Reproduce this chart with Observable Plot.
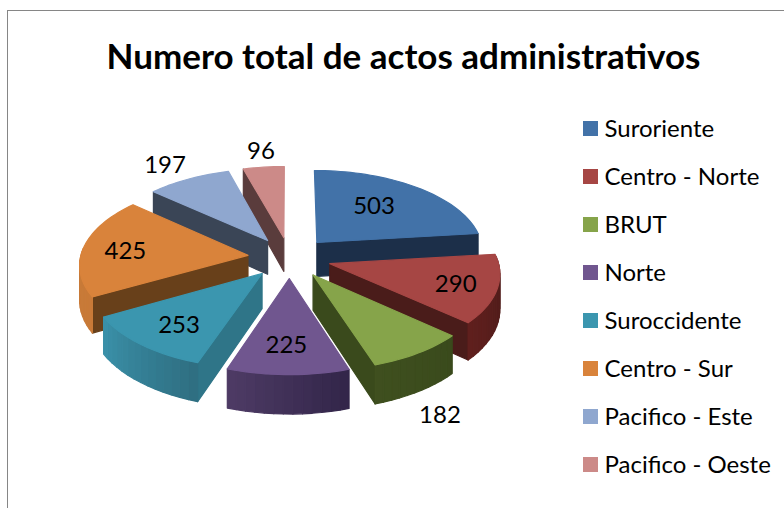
<!DOCTYPE html>
<html><head><meta charset="utf-8">
<script src="https://cdn.jsdelivr.net/npm/d3@7"></script>
<script src="https://cdn.jsdelivr.net/npm/@observablehq/plot@0.6"></script>
<style>html,body{margin:0;padding:0;background:#fff}svg{display:block}</style>
</head><body><div id="chart"></div>
<script>
const title = "Numero total de actos administrativos";
const categories = ["Suroriente","Centro - Norte","BRUT","Norte","Suroccidente","Centro - Sur","Pacifico - Este","Pacifico - Oeste"];
const values = [503,290,182,225,253,425,197,96];
const topColors = ["#4272a8","#a64644","#86a44a","#70568f","#3b96af","#d9833b","#8fa7cf","#cc8a88"];
const sideColors = ["#1c2f49","#4a1c1a","#3a4a1c","#3a2c4c","#2f7588","#68401a","#3a4556","#5a3c3c"];
const outerStart = ["#1c2f49","#4a1c1a","#3a4a1c","#33264a","#2f6f82","#c87a38","#3a4556","#5a3c3c"];
const outerEnd = ["#1c2f49","#601f1d","#3f501f","#4f3c66","#3b92ab","#c87a38","#3a4556","#5a3c3c"];
// label placement on the disc: radius fraction and angular shift from the slice's middle
const labelRadius = [0.61,0.763,1.536,0.72,0.726,0.74,1.27,1.258];
const labelTurn = [-4.1,1.4,9.8,0.9,-1.8,-2.6,-1.4,0.6];

// view model of the tilted exploded pie
const view = {cx:289, cy:257, rx:167.5, ry:82, persp:0.1, explode:0.25, depth:34.5};
const rad = d => d*Math.PI/180;
function project(u, v, z=0){
  const s = 1/(1 - view.persp*v);
  return {x: view.cx + view.rx*u*s, y: view.cy + view.ry*v*s + z*view.depth*s};
}
const total = d3.sum(values);
let acc = 0;
const slices = values.map((value,i)=>{
  const a = acc/total*360; acc += value; const b = acc/total*360;
  const mid = (a+b)/2;
  return {i, name:categories[i], value, a, b, mid,
    ox:view.explode*Math.sin(rad(mid)), oy:-view.explode*Math.cos(rad(mid))};
});
const disc = (s, deg, r=1) => [s.ox + r*Math.sin(rad(deg)), s.oy - r*Math.cos(rad(deg))];
const at = (s, deg, r, z) => { const [u,v] = disc(s,deg,r); return project(u,v,z); };
const polys = [];
let pid = 0;
function addPoly(points, color){
  const id = pid++;
  for (const p of points) polys.push({id, color, x:p.x, y:p.y});
}
const mix = (c1,c2,t) => d3.interpolateRgb(c1,c2)(t);
const ordered = d3.sort(slices, s => s.oy);
for (const s of ordered){
  // radial walls
  if (Math.sin(rad(s.a)) < 0) addPoly([at(s,s.a,0,0),at(s,s.a,1,0),at(s,s.a,1,1),at(s,s.a,0,1)], sideColors[s.i]);
  if (Math.sin(rad(s.b)) > 0) addPoly([at(s,s.b,0,0),at(s,s.b,1,0),at(s,s.b,1,1),at(s,s.b,0,1)], sideColors[s.i]);
  // outer wall, shaded in narrow strips
  const w0 = Math.max(s.a,85), w1 = Math.min(s.b,275);
  if (w1 > w0){
    const n = Math.max(1, Math.ceil((w1-w0)/3));
    for (let k=0;k<n;k++){
      const d0 = w0+(w1-w0)*k/n, d1 = w0+(w1-w0)*(k+1)/n;
      addPoly([at(s,d0,1,0),at(s,d1,1,0),at(s,d1,1,1),at(s,d0,1,1)], mix(outerStart[s.i],outerEnd[s.i],k/n));
    }
  }
  // top face
  const top = [at(s,s.a,0,0)];
  const n = Math.ceil((s.b-s.a)/2);
  for (let k=0;k<=n;k++) top.push(at(s,s.a+(s.b-s.a)*k/n,1,0));
  addPoly(top, topColors[s.i]);
}
const labels = slices.map(s => {
  const p = at(s, s.mid+labelTurn[s.i], labelRadius[s.i], 0);
  return {x:p.x, y:p.y, text:String(s.value)};
});
const legendRows = categories.map((name,i)=>({name, i}));
const legendY = d3.scaleLinear().domain([0,7]).range([128.5,464.5]);
const sans = "Lato, Carlito, sans-serif";

const chart = Plot.plot({
  width:784, height:508, margin:0,
  x:{domain:[0,784], range:[0,784], axis:null},
  y:{domain:[0,508], range:[0,508], axis:null},
  color:{type:"identity"},
  marks:[
    Plot.ruleX([7],{y1:10,y2:508,stroke:"#868686",strokeWidth:1}),
    Plot.ruleY([10],{x1:7,x2:784,stroke:"#868686",strokeWidth:1}),
    Plot.line(polys,{x:"x",y:"y",z:"id",fill:"color",stroke:"color",strokeWidth:1.2,strokeLinejoin:"round",curve:"linear-closed"}),
    Plot.text(labels,{x:"x",y:"y",text:"text",fontSize:24,fontFamily:sans,fill:"#000"}),
    Plot.text([title],{x:403,y:57,text:d=>d,fontSize:35,fontWeight:700,fontFamily:sans,fill:"#000"}),
    Plot.rect(legendRows,{x1:583,x2:598,y1:d=>legendY(d.i)-7.5,y2:d=>legendY(d.i)+7.5,fill:d=>topColors[d.i]}),
    Plot.text(legendRows,{x:604,y:d=>legendY(d.i),text:"name",textAnchor:"start",fontSize:24,fontFamily:sans,fill:"#000"})
  ]
});
document.getElementById("chart").append(chart);
</script></body></html>
